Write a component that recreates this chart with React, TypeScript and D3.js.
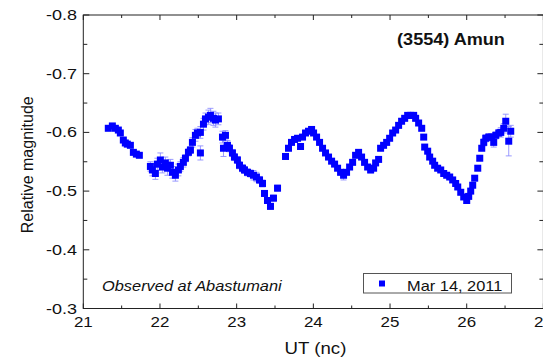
import React from "react";
import * as d3 from "d3";

const ut: number[] = [
  21.326, 21.379, 21.418, 21.457, 21.483, 21.522, 21.548, 21.574, 21.614, 21.653, 21.692, 21.731,
  21.875, 21.901, 21.94, 21.966, 22.005, 22.031, 22.07, 22.097, 22.136, 22.162, 22.201, 22.24,
  22.266, 22.305, 22.332, 22.371, 22.397, 22.423, 22.462, 22.488, 22.527, 22.527, 22.567, 22.593,
  22.632, 22.658, 22.697, 22.723, 22.762, 22.815, 22.854, 22.828, 22.88, 22.906, 22.945, 22.971,
  23.01, 23.037, 23.076, 23.102, 23.141, 23.18, 23.219, 23.258, 23.298, 23.337, 23.363, 23.402,
  23.441, 23.48, 23.533,
  23.637, 23.676, 23.715, 23.755, 23.794, 23.833, 23.859, 23.898, 23.937, 23.977, 24.003, 24.042,
  24.081, 24.12, 24.159, 24.198, 24.238, 24.277, 24.316, 24.355, 24.394, 24.433, 24.473, 24.512,
  24.551, 24.59, 24.629, 24.668, 24.708, 24.747, 24.786, 24.812, 24.851, 24.877, 24.916, 24.956,
  24.995, 25.034, 25.073, 25.112, 25.151, 25.191, 25.23, 25.269, 25.308, 25.334, 25.373, 25.413,
  25.439, 25.452, 25.491, 25.517, 25.556, 25.582, 25.621, 25.661, 25.7, 25.739, 25.778, 25.817,
  25.856, 25.883, 25.922, 25.961, 26.0, 26.026, 26.052, 26.078, 26.104, 26.144, 26.17, 26.196,
  26.222, 26.248, 26.287, 26.326, 26.352, 26.379, 26.418, 26.444, 26.483, 26.509, 26.548, 26.574,
];

const mag: number[] = [
  -0.607, -0.611, -0.607, -0.604, -0.599, -0.587, -0.582, -0.58, -0.578, -0.566, -0.563, -0.561,
  -0.542, -0.536, -0.53, -0.546, -0.553, -0.541, -0.548, -0.539, -0.544, -0.532, -0.527, -0.536,
  -0.542, -0.549, -0.556, -0.566, -0.57, -0.583, -0.595, -0.599, -0.565, -0.6, -0.614, -0.623,
  -0.626, -0.629, -0.624, -0.621, -0.623, -0.592, -0.595, -0.573, -0.578, -0.573, -0.565, -0.558,
  -0.553, -0.544, -0.539, -0.536, -0.532, -0.53, -0.527, -0.524, -0.519, -0.513, -0.496, -0.484,
  -0.474, -0.488, -0.505,
  -0.559, -0.573, -0.583, -0.588, -0.59, -0.576, -0.592, -0.599, -0.602, -0.605, -0.599, -0.592,
  -0.583, -0.573, -0.565, -0.558, -0.551, -0.546, -0.539, -0.532, -0.527, -0.532, -0.541, -0.549,
  -0.561, -0.566, -0.558, -0.549, -0.541, -0.536, -0.539, -0.548, -0.554, -0.573, -0.578, -0.583,
  -0.59, -0.599, -0.604, -0.612, -0.619, -0.624, -0.629, -0.629, -0.629, -0.624, -0.616, -0.607,
  -0.592, -0.575, -0.568, -0.558, -0.551, -0.544, -0.539, -0.536, -0.53, -0.527, -0.524, -0.519,
  -0.513, -0.507, -0.498, -0.49, -0.484, -0.491, -0.5, -0.51, -0.522, -0.539, -0.556, -0.573,
  -0.583, -0.59, -0.592, -0.592, -0.583, -0.595, -0.599, -0.6, -0.607, -0.619, -0.585, -0.602,
];

const err: number[] = [
  0.003, 0.003, 0.003, 0.003, 0.003, 0.003, 0.003, 0.003, 0.003, 0.003, 0.003, 0.003,
  0.008, 0.01, 0.01, 0.01, 0.012, 0.01, 0.01, 0.012, 0.01, 0.01, 0.01, 0.01,
  0.008, 0.008, 0.006, 0.006, 0.006, 0.008, 0.01, 0.008, 0.012, 0.01, 0.01, 0.01,
  0.012, 0.012, 0.012, 0.012, 0.01, 0.01, 0.008, 0.014, 0.008, 0.006, 0.006, 0.006,
  0.006, 0.006, 0.006, 0.006, 0.006, 0.006, 0.008, 0.008, 0.006, 0.006, 0.005, 0.005,
  0.005, 0.005, 0.005,
  0.004, 0.004, 0.004, 0.004, 0.004, 0.004, 0.004, 0.004, 0.004, 0.004, 0.004, 0.004,
  0.004, 0.004, 0.004, 0.004, 0.004, 0.004, 0.004, 0.004, 0.008, 0.004, 0.004, 0.004,
  0.004, 0.004, 0.004, 0.004, 0.004, 0.005, 0.004, 0.004, 0.004, 0.004, 0.004, 0.004,
  0.004, 0.004, 0.004, 0.004, 0.004, 0.004, 0.004, 0.004, 0.004, 0.004, 0.004, 0.004,
  0.004, 0.004, 0.004, 0.004, 0.004, 0.004, 0.004, 0.004, 0.004, 0.004, 0.004, 0.004,
  0.004, 0.004, 0.004, 0.004, 0.005, 0.004, 0.004, 0.004, 0.004, 0.004, 0.004, 0.004,
  0.006, 0.006, 0.006, 0.006, 0.008, 0.006, 0.006, 0.008, 0.008, 0.012, 0.025, 0.01,
];

const xTicks: number[] = [21, 22, 23, 24, 25, 26, 27];
const yTicks: number[] = [-0.8, -0.7, -0.6, -0.5, -0.4, -0.3];

const titleText = "(3554) Amun";
const xLabel = "UT (nc)";
const yLabel = "Relative magnitude";
const noteText = "Observed at Abastumani";
const legendText = "Mar 14, 2011";

const W = 543;
const H = 359;
const FONT = "'Liberation Sans', Arial, Helvetica, sans-serif";
const SX = 1.13;

function SText(props: { x: number; y: number; size: number; anchor?: string; weight?: string; italic?: boolean; sx?: number; children: string }) {
  const { x, y, size, anchor = "start", weight = "normal", italic = false, sx = SX, children } = props;
  return (
    <g transform={`translate(${x},${y}) scale(${sx},1)`}>
      <text
        x={0}
        y={0}
        fontSize={size}
        fontFamily={FONT}
        fontWeight={weight}
        fontStyle={italic ? "italic" : "normal"}
        textAnchor={anchor}
        fill="#111"
      >
        {children}
      </text>
    </g>
  );
}

export default function App() {
  const x = d3.scaleLinear().domain([21, 27]).range([83.3, 543.4]);
  const y = d3.scaleLinear().domain([-0.8, -0.3]).range([15, 308.5]);
  const left = x(21);
  const right = x(27);
  const top = y(-0.8);
  const bottom = y(-0.3);

  const xMinor = d3.range(21, 27.01, 0.5);
  const yMinor = d3.range(-0.8, -0.299, 0.05);
  const data = ut.map((t, i) => ({ t, m: mag[i], e: err[i] }));
  const ms = 7;
  const axisColor = "#222";

  return (
    <svg width={W} height={H} style={{ position: "absolute", left: 0, top: 0, background: "#fff" }}>
      <rect x={0} y={0} width={W} height={H} fill="#fff" />
      {/* error bars */}
      <g stroke="#8f8fff" strokeWidth={0.9}>
        {data.map((d, i) => {
          const cx = x(d.t);
          const y1 = y(d.m - d.e);
          const y2 = y(d.m + d.e);
          return (
            <g key={`e${i}`}>
              <line x1={cx} x2={cx} y1={y1} y2={y2} />
              <line x1={cx - 3} x2={cx + 3} y1={y1} y2={y1} />
              <line x1={cx - 3} x2={cx + 3} y1={y2} y2={y2} />
            </g>
          );
        })}
      </g>
      {/* markers */}
      <g fill="#0000ff">
        {data.map((d, i) => (
          <rect key={`p${i}`} x={x(d.t) - ms / 2} y={y(d.m) - ms / 2} width={ms} height={ms} />
        ))}
      </g>
      {/* frame */}
      <rect x={left} y={top} width={right - left} height={bottom - top} fill="none" stroke={axisColor} strokeWidth={1} />
      {/* ticks */}
      <g stroke={axisColor} strokeWidth={1}>
        {xMinor.map((v, i) => {
          const major = Math.abs(v - Math.round(v)) < 1e-6;
          const len = major ? 5 : 3;
          return (
            <g key={`xt${i}`}>
              <line x1={x(v)} x2={x(v)} y1={bottom} y2={bottom - len} />
              <line x1={x(v)} x2={x(v)} y1={top} y2={top + len} />
            </g>
          );
        })}
        {yMinor.map((v, i) => {
          const major = i % 2 === 0;
          const len = major ? 6 : 4;
          return (
            <g key={`yt${i}`}>
              <line x1={left} x2={left + len} y1={y(v)} y2={y(v)} />
              <line x1={right} x2={right - len} y1={y(v)} y2={y(v)} />
            </g>
          );
        })}
      </g>
      {/* tick labels */}
      {yTicks.map((v) => (
        <SText key={`yl${v}`} x={77} y={y(v) + 5} size={15} sx={1.2} anchor="end">
          {v.toFixed(1)}
        </SText>
      ))}
      {xTicks.map((v) => (
        <SText key={`xl${v}`} x={x(v)} y={327} size={15} anchor="middle">
          {String(v)}
        </SText>
      ))}
      {/* axis labels */}
      <SText x={315.5} y={354} size={16.5} anchor="middle">
        {xLabel}
      </SText>
      <text
        transform={`translate(33,${(top + bottom) / 2 + 3}) rotate(-90)`}
        textAnchor="middle"
        fontSize={16}
        fontFamily={FONT}
        fill="#111"
      >
        {yLabel}
      </text>
      {/* title */}
      <SText x={451} y={45} size={16} anchor="middle" weight="bold">
        {titleText}
      </SText>
      {/* note */}
      <SText x={102} y={291} size={14.5} italic>
        {noteText}
      </SText>
      {/* legend */}
      <rect x={363.5} y={273.5} width={148} height={19.5} fill="#fff" stroke="#555" strokeWidth={1} />
      <rect x={379} y={280.5} width={6} height={6} fill="#0000ff" />
      <SText x={407} y={290.5} size={14.5}>
        {legendText}
      </SText>
    </svg>
  );
}
